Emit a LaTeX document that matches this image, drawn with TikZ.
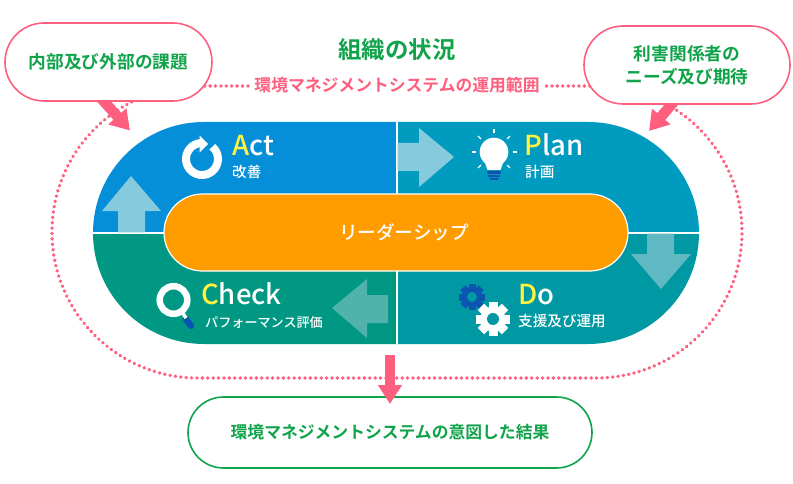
\documentclass[tikz,border=0pt]{standalone}
\usepackage{fontspec}
\setmainfont{Noto Sans CJK JP Medium}
\newfontfamily\strongf{Noto Sans CJK JP Bold}
\usetikzlibrary{arrows.meta}
\definecolor{pinkc}{HTML}{FF5F7E}
\definecolor{greenc}{HTML}{0FA34A}
\definecolor{actc}{HTML}{048FD8}
\definecolor{planc}{HTML}{019BC0}
\definecolor{doc}{HTML}{0099A3}
\definecolor{checkc}{HTML}{009883}
\definecolor{orangec}{HTML}{FF9C00}
\definecolor{yellowc}{HTML}{FFF33F}
\definecolor{iconblue}{HTML}{0B55B0}
\definecolor{palea}{HTML}{86CBDD}
\definecolor{paled}{HTML}{60B9C2}
\definecolor{palec}{HTML}{50B2AB}
\tikzset{
  callout/.style={draw=pinkc,line width=1.6pt,fill=white,rounded corners=39pt,inner sep=0pt,align=center,text=greenc,font=\strongf\fontsize{17.7}{23}\selectfont},
  resultbox/.style={draw=greenc,line width=1.6pt,fill=white,rounded corners=35.5pt,inner sep=0pt,text=greenc,font=\strongf\fontsize{16.8}{20}\selectfont},
  leaderbox/.style={draw=white,line width=1.2pt,fill=orangec,rounded corners=38.5pt,inner sep=0pt,text=white,font=\fontsize{18.6}{22}\selectfont},
  bigword/.style={anchor=base west,inner sep=0pt,text=white,font=\fontsize{27.5}{30}\selectfont},
  subword/.style={anchor=base west,inner sep=0pt,text=white,font=\fontsize{14.6}{18}\selectfont},
  pinkarrow/.style={draw=pinkc,line width=10.5pt,-{Triangle[length=19pt,width=23pt]}},
  ringdots/.style={draw=pinkc,line width=3.6pt,line cap=round,dash pattern=on 0.2pt off 5.2pt},
  sepline/.style={white,line width=1.2pt},
}
\begin{document}
\begin{tikzpicture}[x=1pt,y=-1pt]
\useasboundingbox (0,0) rectangle (793,484);
% dotted scope ring
\draw[ringdots] (248,86) -- (198,86) arc[start angle=270,end angle=90,radius=146] -- (596,378) arc[start angle=90,end angle=-90,radius=146] -- (546,86);
% PDCA stadium
\begin{scope}
\clip (204,122) -- (588,122) arc[start angle=-90,end angle=90,radius=111] -- (204,344) arc[start angle=90,end angle=270,radius=111] -- cycle;
\fill[actc] (90,120) rectangle (397,233);
\fill[planc] (397,120) rectangle (702,233);
\fill[checkc] (90,233) rectangle (397,346);
\fill[doc] (397,233) rectangle (702,346);
\draw[sepline] (90,233) -- (702,233);
\draw[sepline] (397,120) -- (397,346);
\end{scope}
% block arrows
\fill[palea] (118,232.4) -- (118,211) -- (102,211) -- (131,176) -- (161,211) -- (145,211) -- (145,232.4) -- cycle;
\fill[palea] (397.7,143) -- (419,143) -- (419,128) -- (454,157) -- (419,187) -- (419,171) -- (397.7,171) -- cycle;
\fill[paled] (647,233.7) -- (647,254) -- (631,254) -- (661,289) -- (691,254) -- (674,254) -- (674,233.7) -- cycle;
\fill[palec] (388,295) -- (367,295) -- (367,279) -- (332,308) -- (367,338) -- (367,323) -- (388,323) -- cycle;
% leadership bar
\node[leaderbox,minimum width=464pt,minimum height=77pt] (leader) at (396,232.5) {\hspace{16pt}\raisebox{-3pt}{リーダーシップ}};
% icons: Act
\draw[white,line width=8pt] (202,159) ++(-50:16) arc[start angle=-50,end angle=264,radius=16];
\fill[white] (199.5,135.5) -- (208,144) -- (199.5,152.5) -- cycle;
% icons: Plan
\fill[white] (494,152) circle (14.3);
\fill[white] (484,160) -- (504,160) -- (500.5,170) -- (487.5,170) -- cycle;
\fill[iconblue] (487,171) -- (501,171) -- (500,176) -- (497.5,180) -- (490.5,180) -- (488,176) -- cycle;
\draw[planc,line width=.9pt] (487,174) -- (501,174) (488,177) -- (500,177);
\foreach \a in {0,45,135,180,225,270,315}
  \draw[white,line width=1.1pt] (494,152) ++(\a:18.5) -- ++(\a:4);
% icons: Check
\draw[iconblue,line width=6.5pt,line cap=round] (186,319) -- (191,326);
\draw[white,line width=3.5pt] (182,312) -- (186,318);
\draw[white,line width=6.5pt] (173.5,300) circle (13.8);
% icons: Do
\fill[iconblue] (472,297) circle (10.2);
\foreach \a in {0,45,...,315}
  \fill[iconblue,rotate around={\a:(472,297)}] (468.5,284) rectangle (475.5,290);
\fill[doc] (472,297) circle (5);
\fill[white] (493,319) circle (12.5);
\foreach \a in {0,45,...,315}
  \fill[white,rotate around={\a:(493,319)}] (488.5,302) rectangle (497.5,310);
\fill[doc] (493,319) circle (6);
% quadrant labels
\node[bigword] (acttitle) at (232,156) {\textcolor{yellowc}{A}ct};
\node[subword] (actsub) at (232,178) {改善};
\node[bigword] (plantitle) at (524.5,156) {\textcolor{yellowc}{P}lan};
\node[subword] (plansub) at (525,178) {計画};
\node[bigword] (checktitle) at (201,304) {\textcolor{yellowc}{C}heck};
\node[subword,font=\fontsize{13.1}{16}\selectfont] (checksub) at (205,327) {パフォーマンス評価};
\node[bigword] (dotitle) at (518,304) {\textcolor{yellowc}{D}o};
\node[subword] (dosub) at (518,326) {支援及び運用};
% heading
\node[anchor=base,inner sep=0pt,text=greenc,font=\strongf\fontsize{23.4}{26}\selectfont] (context) at (397,59) {組織の状況};
\node[anchor=base,inner sep=0pt,text=pinkc,font=\strongf\fontsize{16.8}{20}\selectfont] (scopelabel) at (397,92) {環境マネジメントシステムの運用範囲};
% pink connectors
\coordinate (issuestail) at (100,97);
\coordinate (issuestip) at (130,130.5);
\coordinate (partiestail) at (677,98);
\coordinate (partiestip) at (649,131);
\coordinate (pdcatail) at (390,355);
\coordinate (resulttip) at (390,404);
\draw[pinkarrow] (issuestail) -- (issuestip);
\draw[pinkarrow] (partiestail) -- (partiestip);
% callouts
\node[callout,minimum width=207pt,minimum height=78pt] (issues) at (108.5,62) {\raisebox{-1pt}{内部及び外部の課題}};
\node[callout,minimum width=206pt,minimum height=78pt] (parties) at (687,65) {利害関係者の\\ニーズ及び期待};
\node[resultbox,minimum width=404pt,minimum height=71pt] (result) at (390,432.5) {\raisebox{-2pt}{環境マネジメントシステムの意図した結果}};
\draw[pinkarrow] (pdcatail) -- (resulttip);
\end{tikzpicture}
\end{document}
